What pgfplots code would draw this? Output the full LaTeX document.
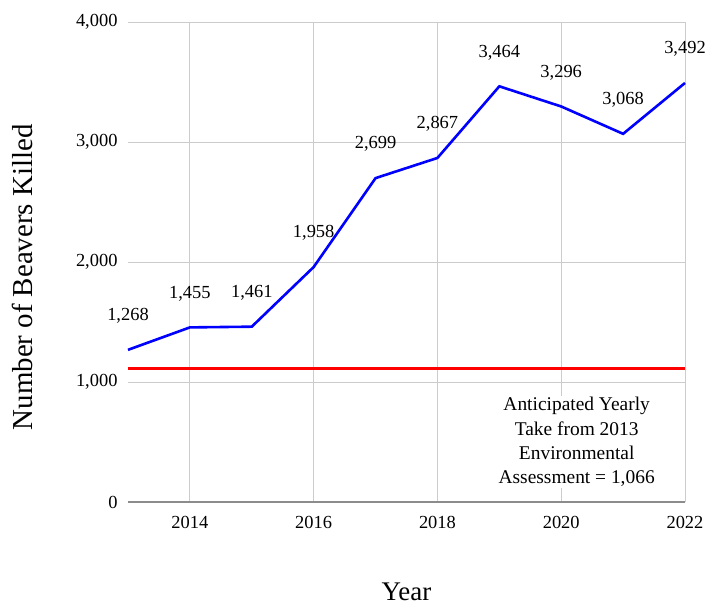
\documentclass[border=0pt]{standalone}
\usepackage{pgfplots}
\pgfplotsset{compat=1.18}
\usepackage{fontspec}
\setmainfont{Liberation Serif}
\begin{document}
\begin{tikzpicture}
\begin{axis}[name=ax, scale only axis, width=557bp, height=480bp,
  xmin=2013, xmax=2022, ymin=0, ymax=4000,
  xtick={2014,2016,2018,2020,2022},
  xticklabels={2014,2016,2018,2020,2022},
  ytick={0,1000,2000,3000,4000},
  scaled y ticks=false,
  /pgf/number format/.cd, 1000 sep={,}, assume math mode=true, /pgfplots/.cd,
  grid=major, major grid style={color=black!20, line width=0.9bp},
  axis line style={draw=none},
  major tick length=0pt,
  tick label style={font=\fontsize{18.5}{22}\selectfont},
  yticklabel style={xshift=-7bp},
  xticklabel style={yshift=-11bp},
  clip=false,
  xlabel={Year},
  ylabel={Number of Beavers Killed},
  xlabel style={at={(axis description cs:0.5,-0.1875)}, anchor=center, font=\fontsize{27}{32}\selectfont},
  ylabel style={at={(axis description cs:-0.19,0.468)}, anchor=center, font=\fontsize{29}{34}\selectfont},
]
\draw[black!45, line width=1.6bp] (axis cs:2013,0) -- (axis cs:2022,0);
\addplot[red, line width=2.6bp] coordinates {(2013,1115) (2022,1115)};
\addplot[blue, line width=2.6bp, mark=none,
  nodes near coords,
  every node near coord/.style={anchor=center, yshift=34bp, text=black, font=\fontsize{18.5}{22}\selectfont}]
  coordinates {
  (2013,1268) (2014,1455) (2015,1461) (2016,1958) (2017,2699)
  (2018,2867) (2019,3464) (2020,3296) (2021,3068) (2022,3492)};
\node[align=center, fill=white, inner sep=1bp, font=\fontsize{19.5}{24.5}\selectfont]
  at (axis cs:2020.25,500) {Anticipated Yearly\\Take from 2013\\Environmental\\Assessment = 1,066};
\end{axis}
\pgfresetboundingbox
\path[use as bounding box] ([shift={(-128bp,-104bp)}]ax.south west) rectangle ([shift={(579bp,502bp)}]ax.south west);
\end{tikzpicture}
\end{document}
